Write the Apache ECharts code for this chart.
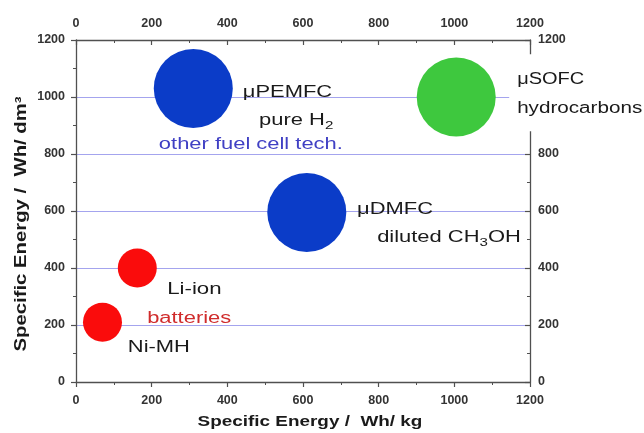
<!DOCTYPE html>
<html>
<head>
<meta charset="utf-8">
<script src="https://cdn.jsdelivr.net/npm/echarts@6/dist/echarts.min.js"></script>
<style>
  html, body { margin: 0; padding: 0; background: #ffffff; }
  #chart { width: 644px; height: 433px; }
</style>
</head>
<body>
<div id="chart"></div>
<script>
// Micro power sources: gravimetric vs. volumetric specific energy
const technologies = ['μPEMFC', 'μSOFC', 'μDMFC', 'Li-ion', 'Ni-MH'];
const energyPerKg = [310, 1005, 610, 162, 70];      // Wh/kg
const energyPerDm3 = [1030, 1000, 595, 400, 210];   // Wh/dm³
const technologyClass = ['pemfc', 'sofc', 'dmfc', 'battery', 'battery'];
const axisTicks = [0, 200, 400, 600, 800, 1000, 1200];

const FONT = '"Liberation Sans", Arial, Helvetica, sans-serif';
const classColor = { pemfc: '#0b3cc8', dmfc: '#0b3cc8', sofc: '#3ec83e', battery: '#fa0c0c' };
const classSize = { pemfc: 79, dmfc: 79, sofc: 79, battery: 39 };

// Text annotations, anchored in data coordinates (left edge, vertical middle)
const annotations = [
  { text: 'μPEMFC', at: [441, 1015], color: '#1a1a1a', stretch: 1.37 },
  { text: 'pure H{s|2}', at: [484, 917], color: '#1a1a1a', stretch: 1.37 },
  { text: 'other fuel cell tech.', at: [219, 832], color: '#4040c4', stretch: 1.37 },
  { text: 'μSOFC', at: [1166, 1060], color: '#1a1a1a', stretch: 1.25 },
  { text: 'hydrocarbons', at: [1166, 961], color: '#1a1a1a', stretch: 1.29 },
  { text: 'μDMFC', at: [743, 604], color: '#1a1a1a', stretch: 1.37 },
  { text: 'diluted CH{s|3}OH', at: [796, 507], color: '#1a1a1a', stretch: 1.37 },
  { text: 'Li-ion', at: [241, 325], color: '#1a1a1a', stretch: 1.39 },
  { text: 'batteries', at: [188, 223], color: '#d02c2c', stretch: 1.37 },
  { text: 'Ni-MH', at: [137, 119], color: '#1a1a1a', stretch: 1.37 }
];

const axisMin = axisTicks[0];
const axisMax = axisTicks[axisTicks.length - 1];
const axisStep = axisTicks[1] - axisTicks[0];

const lineColor = '#505050';
const labelStyle = {
  fontFamily: FONT, fontSize: 12.5, fontWeight: 'bold', color: '#333333',
  formatter: (v) => String(v)
};

function valueAxis(position, inside, labelMargin, extra) {
  return Object.assign({
    type: 'value',
    position: position,
    min: axisMin,
    max: axisMax,
    interval: axisStep,
    axisLine: { show: true, onZero: false, lineStyle: { color: lineColor, width: 1.3 } },
    axisTick: { show: true, inside: inside, length: 5, lineStyle: { color: lineColor, width: 1.2 } },
    minorTick: { show: true, splitNumber: 2, length: 3, lineStyle: { color: lineColor, width: 1 } },
    axisLabel: Object.assign({ margin: labelMargin }, labelStyle),
    splitLine: { show: false }
  }, extra || {});
}

const chart = echarts.init(document.getElementById('chart'), null, { renderer: 'canvas' });

chart.setOption({
  animation: false,
  backgroundColor: '#ffffff',
  grid: { left: 76, right: 114, top: 40, bottom: 51, containLabel: false },
  xAxis: [
    valueAxis('bottom', false, 12),
    valueAxis('top', true, 10)
  ],
  yAxis: [
    valueAxis('left', false, 11, {
      splitLine: { show: true, lineStyle: { color: '#a4a4ee', width: 1 } }
    }),
    valueAxis('right', true, 8, {
      axisLabel: Object.assign({ margin: 8, padding: [0, 0, 6, 0] }, labelStyle)
    })
  ],
  series: [{
    type: 'scatter',
    xAxisIndex: 0,
    yAxisIndex: 0,
    z: 3,
    data: technologies.map((name, i) => ({
      name: name,
      value: [energyPerKg[i], energyPerDm3[i]],
      symbolSize: classSize[technologyClass[i]],
      itemStyle: { color: classColor[technologyClass[i]], opacity: 1 }
    })),
    emphasis: { disabled: true }
  }]
});

const toPx = (pt) => chart.convertToPixel({ xAxisIndex: 0, yAxisIndex: 0 }, pt);

const subStyle = { fontSize: 11, verticalAlign: 'bottom', lineHeight: 22, fontFamily: FONT };
const elements = [];

// White patch behind the μSOFC caption that interrupts the right-hand frame
const coverTop = toPx([1145, 1150]);
const coverBottom = toPx([1145, 880]);
elements.push({
  type: 'rect',
  z: 100,
  shape: { x: coverTop[0], y: coverTop[1], width: 644 - coverTop[0], height: coverBottom[1] - coverTop[1] },
  style: { fill: '#ffffff' }
});

annotations.forEach((a) => {
  const p = toPx(a.at);
  elements.push({
    type: 'text',
    z: 101,
    x: p[0],
    y: p[1],
    scaleX: a.stretch,
    style: {
      text: a.text,
      fontFamily: FONT,
      fontSize: 16,
      lineHeight: 22,
      fill: a.color,
      align: 'left',
      verticalAlign: 'middle',
      textAlign: 'left',
      textVerticalAlign: 'middle',
      rich: { s: Object.assign({ fill: a.color, color: a.color }, subStyle) }
    }
  });
});

// Axis titles
const xTitleAnchor = toPx([(axisMin + axisMax) / 2, axisMin]);
elements.push({
  type: 'text',
  z: 101,
  x: xTitleAnchor[0] + 7,
  y: xTitleAnchor[1] + 40,
  scaleX: 1.26,
  style: {
    text: 'Specific Energy /  Wh/ kg',
    fontFamily: FONT, fontSize: 15, fontWeight: 'bold', fill: '#1a1a1a',
    align: 'center', verticalAlign: 'middle', textAlign: 'center', textVerticalAlign: 'middle'
  }
});
const yTitleAnchor = toPx([axisMin, (axisMin + axisMax) / 2]);
elements.push({
  type: 'text',
  z: 101,
  x: yTitleAnchor[0] - 54,
  y: yTitleAnchor[1] + 13,
  rotation: Math.PI / 2,
  scaleX: 1.27,
  style: {
    text: 'Specific Energy /  Wh/ dm³',
    fontFamily: FONT, fontSize: 16, fontWeight: 'bold', fill: '#1a1a1a',
    align: 'center', verticalAlign: 'middle', textAlign: 'center', textVerticalAlign: 'middle'
  }
});

chart.setOption({ graphic: { elements: elements } });
</script>
</body>
</html>
